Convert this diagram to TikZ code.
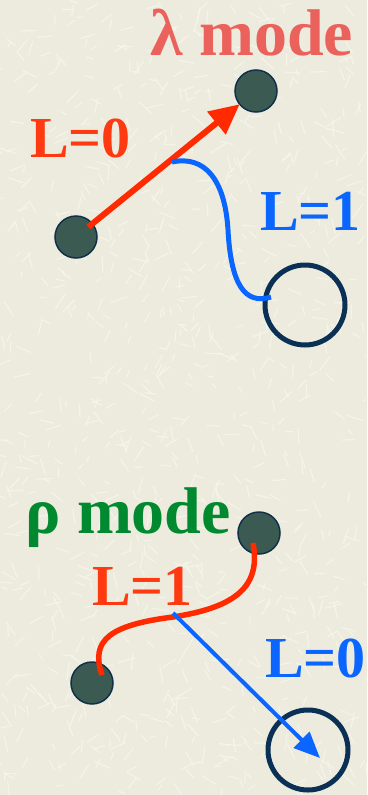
\documentclass[tikz,border=0pt]{standalone}
\usepackage{fontspec}
\setmainfont{Liberation Serif}
\usetikzlibrary{arrows.meta,calc}
\definecolor{bg}{HTML}{ECEBDE}
\definecolor{tex}{HTML}{F7F7EE}
\definecolor{ballfill}{HTML}{3B5A52}
\definecolor{ballline}{HTML}{12304A}
\definecolor{ring}{HTML}{0A3055}
\definecolor{lamc}{HTML}{EB615B}
\definecolor{redc}{HTML}{FF3A10}
\definecolor{arrred}{HTML}{FF2A00}
\definecolor{bluec}{HTML}{0A66FF}
\definecolor{greenc}{HTML}{00892F}
\begin{document}
\begin{tikzpicture}[x=1pt,y=-1pt,
  ball/.style={circle,fill=ballfill,draw=ballline,line width=1.5pt,minimum size=42pt,inner sep=0pt,outer sep=0pt},
  hole/.style={circle,draw=ring,line width=5pt,minimum size=80pt,inner sep=0pt,outer sep=0pt},
  lbl/.style={anchor=base west,inner sep=0pt,font=\fontsize{58}{58}\selectfont\bfseries},
  title/.style={anchor=base west,inner sep=0pt,font=\fontsize{66}{66}\selectfont\bfseries}]
\fill[bg] (0,0) rectangle (367,795);
\useasboundingbox (0,0) rectangle (367,795);
% texture
\pgfmathsetseed{7}
\foreach \i in {1,...,900}{
  \pgfmathsetmacro{\xx}{rnd*367}
  \pgfmathsetmacro{\yy}{rnd*795}
  \pgfmathsetmacro{\aa}{rnd*360}
  \pgfmathsetmacro{\ll}{6+rnd*12}
  \draw[tex,line width=1.1pt,opacity=0.8] (\xx,\yy) -- ++(\aa:\ll);
}
% ---- lambda mode ----
\node[title,text=lamc] (t1) at (150,55) {λ mode};
\node[ball] (a1) at (76,237) {};
\node[ball] (a2) at (256,91) {};
\node[hole] (h1) at (305,305) {};
\node[lbl,text=redc] (l1) at (30,157) {L=0};
\node[lbl,text=bluec] (l2) at (260,230) {L=1};
\draw[arrred,line width=6pt,shorten <=16pt,-{Triangle[length=30pt,width=28pt]}] (a1.center) -- (a2);
\coordinate (m1) at (172,162);
\coordinate (e1) at ($(h1.center)+(-34,-8)$);
\draw[bluec,line width=5pt] (m1) .. controls (205,155) and (225,180) .. (228,230)
  .. controls (231,285) and (245,305) .. (e1);
% ---- rho mode ----
\node[title,text=greenc] (t2) at (25,533) {ρ mode};
\node[ball] (b1) at (92,683) {};
\node[ball] (b2) at (259,533) {};
\node[hole] (h2) at (308,750) {};
\node[lbl,text=redc] (l3) at (92,605) {L=1};
\node[lbl,text=bluec] (l4) at (265,677) {L=0};
\coordinate (s1) at ($(b1.center)+(10,-8)$);
\coordinate (s2) at ($(b2.center)+(-6,10)$);
\draw[arrred,line width=5.5pt] (s1) .. controls (90,640) and (110,625) .. (173,617)
  .. controls (230,608) and (262,590) .. (s2);
\coordinate (m2) at (173,613);
\coordinate (e2) at ($(h2.center)+(12,8)$);
\draw[bluec,line width=4pt,-{Triangle[length=26pt,width=22pt]}] (m2) -- (e2);
\end{tikzpicture}
\end{document}
